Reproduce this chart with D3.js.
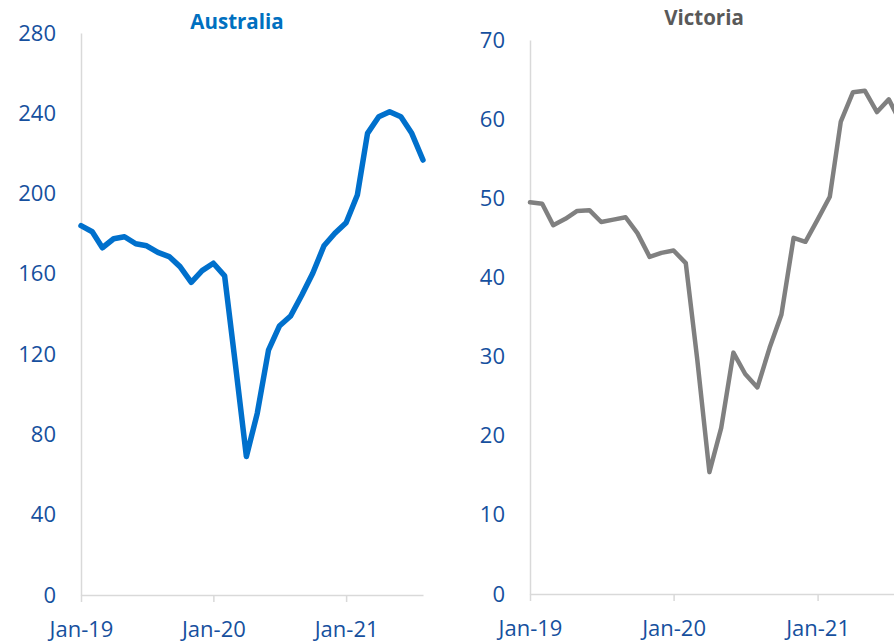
<!DOCTYPE html>
<html>
<head>
<meta charset="utf-8">
<script src="https://cdn.jsdelivr.net/npm/d3@7"></script>
<style>
  body { margin: 0; background: #fff; overflow: hidden; }
  #chart { width: 894px; height: 643px; }
  text { font-family: "Open Sans", sans-serif; }
</style>
</head>
<body>
<div id="chart"></div>
<script>
// months, Jan-19 .. Aug-21
const months = ["Jan-19","Feb-19","Mar-19","Apr-19","May-19","Jun-19","Jul-19","Aug-19","Sep-19","Oct-19","Nov-19","Dec-19",
                "Jan-20","Feb-20","Mar-20","Apr-20","May-20","Jun-20","Jul-20","Aug-20","Sep-20","Oct-20","Nov-20","Dec-20",
                "Jan-21","Feb-21","Mar-21","Apr-21","May-21","Jun-21","Jul-21","Aug-21"];
const australia = [184, 181, 173, 177.5, 178.5, 175, 174, 170.7, 168.6, 163.6, 155.8, 161.6,
                   165.3, 159, 116, 69, 90.5, 122, 134, 139, 149.5, 160.3, 174, 180.2,
                   185.5, 199.3, 230, 238.3, 240.8, 238.3, 230, 216.7];
const victoria = [49.5, 49.3, 46.6, 47.4, 48.4, 48.5, 47.0, 47.3, 47.6, 45.6, 42.6, 43.1,
                  43.4, 41.8, 29.7, 15.4, 21.0, 30.5, 27.8, 26.1, 31.1, 35.3, 45.0, 44.5,
                  47.3, 50.2, 59.7, 63.4, 63.6, 60.9, 62.5, 59.5];
const xTickLabels = ["Jan-19", "Jan-20", "Jan-21"];
const ausTicks = [0, 40, 80, 120, 160, 200, 240, 280];
const vicTicks = [0, 10, 20, 30, 40, 50, 60, 70];

const parseMonth = d3.timeParse("%b-%y");
const labelColor = "#16509e";
const axisColor = "#d9d9d9";

var svg = d3.select("#chart")
            .append("svg")
                .attr("width", 894)
                .attr("height", 643);

function drawPanel(opts) {
    var g = svg.append("g");
    var data = opts.values.map((v, i) => ({ date: parseMonth(months[i]), value: v }));

    var x = d3.scaleTime()
                .domain([parseMonth(months[0]), parseMonth(months[months.length - 1])])
                .range([opts.left, opts.right]);
    var y = d3.scaleLinear()
                .domain([0, opts.max])
                .range([opts.bottom, opts.top]);

    //title
    g.append("text")
        .attr("x", opts.titleX)
        .attr("y", opts.titleY)
        .attr("text-anchor", "middle")
        .style("font-weight", "bold")
        .style("font-size", "20.5px")
        .style("fill", opts.titleColor)
        .text(opts.title);

    //y axis (line only, labels on the left)
    var yAxis = g.append("g")
                    .attr("transform", "translate(" + opts.left + ",0)")
                    .call(d3.axisLeft(y).tickValues(opts.ticks).tickSize(0).tickPadding(25));
    yAxis.select(".domain").attr("stroke", axisColor).attr("stroke-width", 1.5);
    yAxis.selectAll("text")
            .style("font-size", "22px")
            .style("fill", labelColor)
            .style("font-family", "Open Sans, sans-serif");

    //x axis
    var xAxis = g.append("g")
                    .attr("transform", "translate(0," + opts.bottom + ")")
                    .call(d3.axisBottom(x)
                            .tickValues(xTickLabels.map(parseMonth))
                            .tickFormat(d3.timeFormat("%b-%y"))
                            .tickSize(7)
                            .tickSizeOuter(0)
                            .tickPadding(19));
    xAxis.select(".domain").attr("stroke", axisColor).attr("stroke-width", 1.5);
    xAxis.selectAll(".tick line").attr("stroke", axisColor).attr("stroke-width", 1.5);
    xAxis.selectAll("text")
            .style("font-size", "22px")
            .style("fill", labelColor)
            .style("font-family", "Open Sans, sans-serif");

    //series line
    var line = d3.line()
                    .x(d => x(d.date))
                    .y(d => y(d.value));
    g.append("path")
        .datum(data)
        .attr("d", line)
        .attr("fill", "none")
        .attr("stroke", opts.lineColor)
        .attr("stroke-width", opts.lineWidth)
        .attr("stroke-linejoin", "round")
        .attr("stroke-linecap", "round");
}

drawPanel({
    title: "Australia", titleX: 237, titleY: 29, titleColor: "#0070c0",
    values: australia, ticks: ausTicks, max: 280,
    left: 81, right: 423, top: 33, bottom: 595,
    lineColor: "#0070cc", lineWidth: 5.5
});

drawPanel({
    title: "Victoria", titleX: 704, titleY: 25, titleColor: "#595959",
    values: victoria, ticks: vicTicks, max: 70,
    left: 530, right: 901, top: 40, bottom: 594,
    lineColor: "#808080", lineWidth: 4.5
});
</script>
</body>
</html>
